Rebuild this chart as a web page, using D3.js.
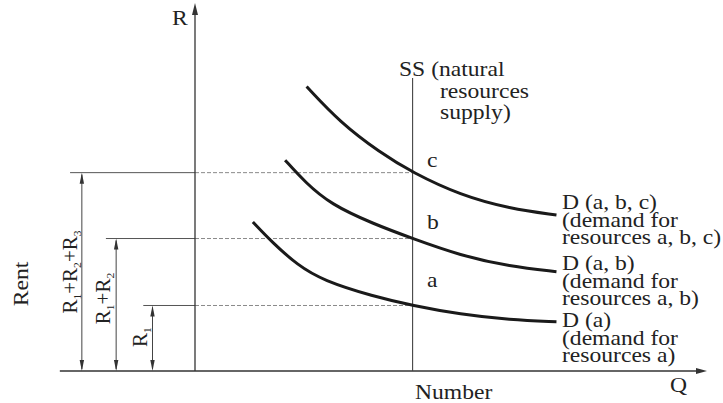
<!DOCTYPE html>
<html>
<head>
<meta charset="utf-8">
<script src="https://cdn.jsdelivr.net/npm/d3@7"></script>
<style>
  html, body { margin: 0; padding: 0; background: #fff; }
  svg { display: block; }
  text { font-family: "Liberation Serif", "Times New Roman", serif; fill: #222; }
</style>
</head>
<body>
<svg id="chart" width="723" height="403"></svg>
<script>
// ---------- data ----------
const supplyQ = 42.5;              // SS vertical line (quantity)
const supplyTop = 79.6;            // top of the SS line (R units)
const rentLevels = [17.8, 36.0, 53.9];          // a, b, c equilibrium rents
const levelLineStart = [-10.1, -17.4, -24.4];   // where the rent lines start (Q units)
const rentArrowQ = [-8.3, -15.4, -22.1];         // positions of double arrows
const rentArrowLabels = [["R", "1"], ["R", "1", "+R", "2"], ["R", "1", "+R", "2", "+R", "3"]];
const pointLetters = ["a", "b", "c"];

const demandA_Q = [11.3, 15.2, 20.0, 25.0, 34.8, 42.5, 51.8, 61.5, 70.6];
const demandA_R = [40.5, 34.8, 28.8, 24.6, 20.3, 17.8, 15.4, 13.9, 13.4];
const demandB_Q = [17.6, 21.5, 26.5, 34.8, 42.5, 51.8, 61.5, 70.6];
const demandB_R = [57.3, 51.3, 45.3, 40.0, 36.0, 31.4, 28.4, 27.0];
const demandC_Q = [21.8, 28.3, 36.1, 42.5, 51.8, 61.5, 70.6];
const demandC_R = [77.3, 67.6, 59.4, 53.9, 47.8, 44.1, 42.4];

const demandLabels = [
  ["D (a)", "(demand for", "resources a)"],
  ["D (a, b)", "(demand for", "resources a, b)"],
  ["D (a, b, c)", "(demand for", "resources a, b, c)"]
];
const supplyLabel = ["SS (natural", "resources", "supply)"];
const xAxisLabel = "Q", yAxisLabel = "R", xTitle = "Number", yTitle = "Rent";
const xAxisExtent = [-26.4, 100];

// ---------- scales ----------
const svg = d3.select("#chart");
const x = d3.scaleLinear().domain([0, 100]).range([195, 707]);
const y = d3.scaleLinear().domain([0, 100]).range([371, 3]);

const SX = 1.18; // horizontal glyph stretch of the reference typeface
const FS = 20;

function txt(px, py, str, opts = {}) {
  const rot = opts.rotate ? ` rotate(${opts.rotate})` : "";
  return svg.append("text")
    .attr("transform", `translate(${px},${py})${rot} scale(${SX},1)`)
    .attr("font-size", opts.size || FS)
    .attr("text-anchor", opts.anchor || "start")
    .text(str);
}

// multi-line block as ONE text element
function block(px, py, lines, gaps, xOffsets) {
  const t = svg.append("text")
    .attr("transform", `translate(${px},${py}) scale(${SX},1)`)
    .attr("font-size", FS);
  lines.forEach((s, j) => {
    t.append("tspan")
      .attr("x", (xOffsets ? xOffsets[j] : 0) / SX)
      .attr("dy", j === 0 ? 0 : gaps[j - 1])
      .text(s);
  });
  return t;
}

function arrowHead(tx, ty, dir, len, hw) {
  let pts;
  if (dir === "up") pts = [[tx, ty], [tx - hw, ty + len], [tx + hw, ty + len]];
  else if (dir === "down") pts = [[tx, ty], [tx - hw, ty - len], [tx + hw, ty - len]];
  else pts = [[tx, ty], [tx - len, ty - hw], [tx - len, ty + hw]];
  svg.append("path").attr("d", d3.line()(pts) + "Z").attr("fill", "#333");
}

// ---------- rent level lines ----------
rentLevels.forEach((r, i) => {
  svg.append("line")
    .attr("x1", x(levelLineStart[i])).attr("x2", x(0))
    .attr("y1", y(r)).attr("y2", y(r))
    .attr("stroke", "#555").attr("stroke-width", 1);
  svg.append("line")
    .attr("x1", x(0)).attr("x2", x(supplyQ))
    .attr("y1", y(r)).attr("y2", y(r))
    .attr("stroke", "#8a8a8a").attr("stroke-width", 1)
    .attr("stroke-dasharray", "4,2");
  const ax = x(rentArrowQ[i]);
  svg.append("line")
    .attr("x1", ax).attr("x2", ax)
    .attr("y1", y(r) + 2).attr("y2", y(0) - 2)
    .attr("stroke", "#444").attr("stroke-width", 1);
  arrowHead(ax, y(r), "up", 11, 2.2);
  arrowHead(ax, y(0), "down", 11, 2.2);
});

// ---------- axes ----------
svg.append("line")
  .attr("x1", x(xAxisExtent[0])).attr("x2", x(xAxisExtent[1]) - 6)
  .attr("y1", y(0)).attr("y2", y(0))
  .attr("stroke", "#333").attr("stroke-width", 1.3);
arrowHead(x(xAxisExtent[1]), y(0), "right", 11, 3);
svg.append("line")
  .attr("x1", x(0)).attr("x2", x(0))
  .attr("y1", y(0)).attr("y2", y(100) + 6)
  .attr("stroke", "#333").attr("stroke-width", 1.3);
arrowHead(x(0), y(100), "up", 12, 3);

// SS line
svg.append("line")
  .attr("x1", x(supplyQ)).attr("x2", x(supplyQ))
  .attr("y1", y(supplyTop)).attr("y2", y(0))
  .attr("stroke", "#444").attr("stroke-width", 1.1);

// ---------- demand curves ----------
const line = d3.line().x(d => x(d[0])).y(d => y(d[1])).curve(d3.curveBasis);
const curves = [
  d3.zip(demandA_Q, demandA_R),
  d3.zip(demandB_Q, demandB_R),
  d3.zip(demandC_Q, demandC_R)
];
curves.forEach(c => {
  svg.append("path").attr("d", line(c))
    .attr("fill", "none").attr("stroke", "#1a1a1a")
    .attr("stroke-width", 3).attr("stroke-linecap", "butt");
});

// ---------- labels ----------
const demandFirstBaseline = [327, 270, 209];
demandLabels.forEach((lines, i) => {
  block(562, demandFirstBaseline[i], lines, [17.8, 17.5]);
});
block(399, 76, supplyLabel, [22.5, 20.5], [0, 41, 41]);

const letterBaselines = [287, 229, 166.5];
pointLetters.forEach((s, i) => txt(427, letterBaselines[i], s));

txt(415, 399, xTitle);
txt(670, 392, xAxisLabel);
txt(172, 25, yAxisLabel);
txt(28, 284, yTitle, { rotate: -90, anchor: "middle" });

// rotated R labels with subscripts
const rLabelPos = [[146.7, 337], [110, 298.5], [76.7, 272]];
rentArrowLabels.forEach((parts, i) => {
  const t = svg.append("text")
    .attr("transform", `translate(${rLabelPos[i][0]},${rLabelPos[i][1]}) rotate(-90) scale(1.05,1)`)
    .attr("font-size", FS)
    .attr("text-anchor", "middle");
  parts.forEach((p, k) => {
    const sub = k % 2 === 1;
    t.append("tspan")
      .attr("font-size", sub ? 11 : FS)
      .attr("dy", sub ? 4 : (k === 0 ? 0 : -4))
      .text(p);
  });
});
</script>
</body>
</html>
